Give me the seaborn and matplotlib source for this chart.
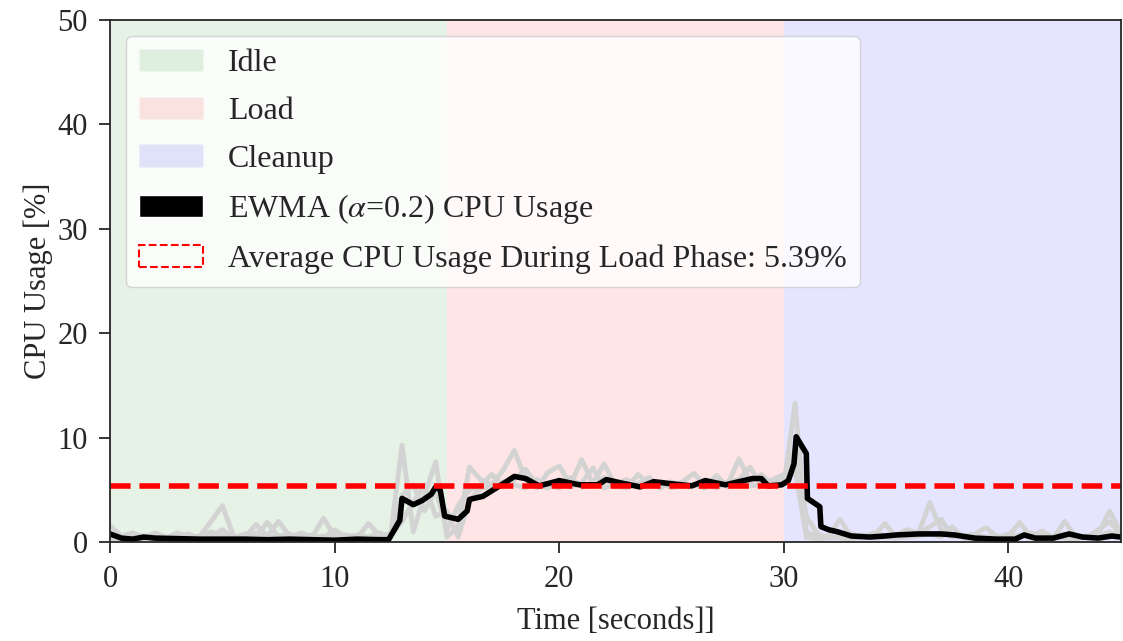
import numpy as np
import pandas as pd
import matplotlib
matplotlib.use("Agg")
import matplotlib.pyplot as plt
from matplotlib.patches import Patch
import seaborn as sns

# ---------------- data ----------------
sample_time = np.arange(0, 45.01, 0.5)

run_1 = [1.6, 0.6, 0.9, 0.5, 0.8, 0.4, 0.9, 0.5, 0.6, 2.0, 3.5, 0.6, 0.5, 1.7, 0.6, 2.0, 0.6, 0.5, 0.7, 0.4, 1.2, 0.5, 0.4, 1.8, 0.6, 0.8,
         9.3, 1.0, 4.5, 7.7, 0.5, 1.5, 7.2, 6.0, 5.5, 6.9, 8.8, 6.0, 5.2, 6.7, 7.3, 5.5, 7.9, 5.6, 7.5, 5.4, 5.2, 6.5, 5.5, 5.6, 5.3, 5.8, 6.6, 5.4, 5.6, 5.5, 8.0, 5.8, 6.5, 5.5, 5.5,
         13.3, 1.0, 0.5, 0.6, 2.2, 0.5, 0.7, 0.6, 1.8, 0.5, 0.6, 0.9, 3.8, 1.2, 0.5, 0.6, 0.8, 1.4, 0.5, 0.6, 1.9, 0.5, 1.1, 0.4, 2.0, 0.5, 0.6, 0.8, 3.0, 0.9]
run_2 = [0.8, 0.4, 0.5, 0.3, 0.9, 0.5, 0.4, 0.8, 0.3, 0.6, 1.2, 0.4, 0.8, 0.5, 1.9, 0.5, 0.4, 0.9, 0.5, 2.3, 0.6, 0.4, 0.7, 0.5, 0.9, 0.5,
         4.5, 5.5, 3.0, 5.0, 1.2, 3.5, 5.0, 5.5, 6.5, 5.3, 6.0, 7.0, 5.5, 5.2, 6.0, 5.3, 5.7, 7.1, 5.2, 5.6, 6.0, 5.3, 5.4, 5.8, 5.2, 5.5, 5.4, 6.0, 5.2, 5.8, 6.0, 7.2, 5.4, 5.6, 6.0,
         9.0, 2.5, 0.8, 0.4, 0.6, 0.8, 0.5, 0.9, 0.6, 0.7, 1.2, 0.8, 1.5, 2.2, 0.6, 0.5, 0.7, 0.5, 0.4, 0.8, 0.5, 0.9, 0.6, 0.5, 0.8, 0.6, 0.5, 1.2, 2.0, 0.7]
run_3 = [0.4, 0.3, 0.4, 0.6, 0.3, 0.4, 0.7, 0.3, 0.5, 1.0, 0.6, 0.3, 0.4, 0.9, 0.4, 0.6, 0.8, 0.3, 0.4, 0.6, 0.3, 0.7, 0.5, 0.4, 0.5, 0.6,
         2.0, 3.8, 5.5, 2.5, 3.0, 0.5, 4.0, 5.2, 5.3, 5.8, 5.5, 5.2, 6.0, 5.5, 5.2, 6.2, 5.3, 5.5, 6.2, 5.3, 5.5, 5.6, 6.2, 5.2, 5.8, 5.3, 5.5, 5.2, 6.4, 5.3, 5.6, 5.4, 5.5, 6.0, 6.5,
         7.0, 0.5, 0.3, 0.5, 0.4, 0.3, 0.6, 0.4, 0.5, 0.4, 0.5, 0.6, 0.9, 0.5, 1.5, 0.4, 0.3, 0.5, 0.6, 0.3, 0.7, 0.4, 0.3, 0.6, 0.4, 0.3, 0.6, 0.5, 1.0, 0.4]

ewma_time = [0.0, 0.5, 1.0, 1.5, 2.0, 3.0, 4.0, 5.0, 6.0, 7.0, 8.0, 9.0, 10.0, 11.0, 12.0, 12.4,
             12.9, 13.0, 13.5, 13.9, 14.3, 14.5, 14.7, 14.9, 15.5, 15.9, 16.0, 16.6, 16.9, 17.5, 18.0, 18.5,
             19.1, 20.0, 20.9, 21.7, 22.1, 22.7, 23.6, 24.2, 25.0, 25.9, 26.5, 27.4, 28.6, 29.0, 29.3, 29.9,
             30.2, 30.45, 30.55, 31.0, 31.05, 31.6, 31.65, 32.0, 32.4, 33.0, 33.8, 34.5, 35.0, 36.0, 37.0,
             37.6, 38.5, 39.5, 40.3, 40.7, 41.2, 42.0, 42.7, 43.3, 44.0, 44.6, 45.0]
ewma_cpu = [0.8, 0.4, 0.3, 0.5, 0.4, 0.35, 0.3, 0.3, 0.3, 0.25, 0.3, 0.25, 0.2, 0.3, 0.25, 0.25,
            2.1, 4.2, 3.6, 4.0, 4.6, 5.3, 5.0, 2.5, 2.2, 3.0, 4.1, 4.4, 4.8, 5.6, 6.3, 6.1,
            5.4, 5.9, 5.5, 5.5, 6.0, 5.7, 5.3, 5.8, 5.6, 5.4, 5.9, 5.5, 6.1, 6.1, 5.4, 5.5,
            5.9, 7.5, 10.1, 8.5, 4.2, 3.4, 1.5, 1.2, 1.0, 0.6, 0.5, 0.6, 0.7, 0.8, 0.8,
            0.7, 0.4, 0.3, 0.3, 0.7, 0.4, 0.4, 0.8, 0.5, 0.4, 0.6, 0.5]

phase_names = ["Idle", "Load", "Cleanup"]
phase_start = [0, 15, 30]
phase_end = [15, 30, 45]
phase_colors = ["green", "red", "blue"]

load_avg = 5.39

# ---------------- plot ----------------
sns.set_style("ticks")
plt.rcParams["font.family"] = ["Liberation Serif", "DejaVu Serif"]
plt.rcParams["mathtext.fontset"] = "stix"
plt.rcParams["font.size"] = 22
plt.rcParams["axes.linewidth"] = 1.3
plt.rcParams["xtick.major.width"] = 1.3
plt.rcParams["ytick.major.width"] = 1.3
plt.rcParams["xtick.major.size"] = 8
plt.rcParams["ytick.major.size"] = 8
plt.rcParams["xtick.major.pad"] = 8
plt.rcParams["ytick.major.pad"] = 8

fig, ax = plt.subplots(figsize=(11.23, 6.41), dpi=100)
fig.subplots_adjust(left=0.098, right=0.998, top=0.969, bottom=0.154)

for s, e, c in zip(phase_start, phase_end, phase_colors):
    ax.axvspan(s, e, color=c, alpha=0.1, lw=0)

runs_df = pd.DataFrame({"time": np.tile(sample_time, 3),
                        "cpu": run_1 + run_2 + run_3,
                        "run": ["r1"] * len(run_1) + ["r2"] * len(run_2) + ["r3"] * len(run_3)})
for r, sub in runs_df.groupby("run"):
    sns.lineplot(data=sub, x="time", y="cpu", ax=ax, color="lightgray", lw=3.5, legend=False)

sns.lineplot(x=ewma_time, y=ewma_cpu, ax=ax, color="black", lw=4, legend=False)
ax.axhline(load_avg, color="red", ls="--", lw=4)

ax.set_xlim(0, 45)
ax.set_ylim(0, 50)
ax.set_xticks([0, 10, 20, 30, 40])
ax.set_yticks([0, 10, 20, 30, 40, 50])
ax.set_xlabel("Time [seconds]]", labelpad=10)
ax.set_ylabel("CPU Usage [%]", labelpad=3)

handles = [Patch(facecolor=c, alpha=0.1, label=n) for n, c in zip(phase_names, phase_colors)]
handles.append(Patch(facecolor="black", label=r"EWMA ($\alpha$=0.2) CPU Usage"))
handles.append(Patch(facecolor="none", edgecolor="red", ls="--", lw=1.5,
                     label=f"Average CPU Usage During Load Phase: {load_avg:.2f}%"))
ax.legend(handles=handles, loc="upper left", fontsize=23, labelspacing=0.58)

fig.savefig("out.png", dpi=100)
